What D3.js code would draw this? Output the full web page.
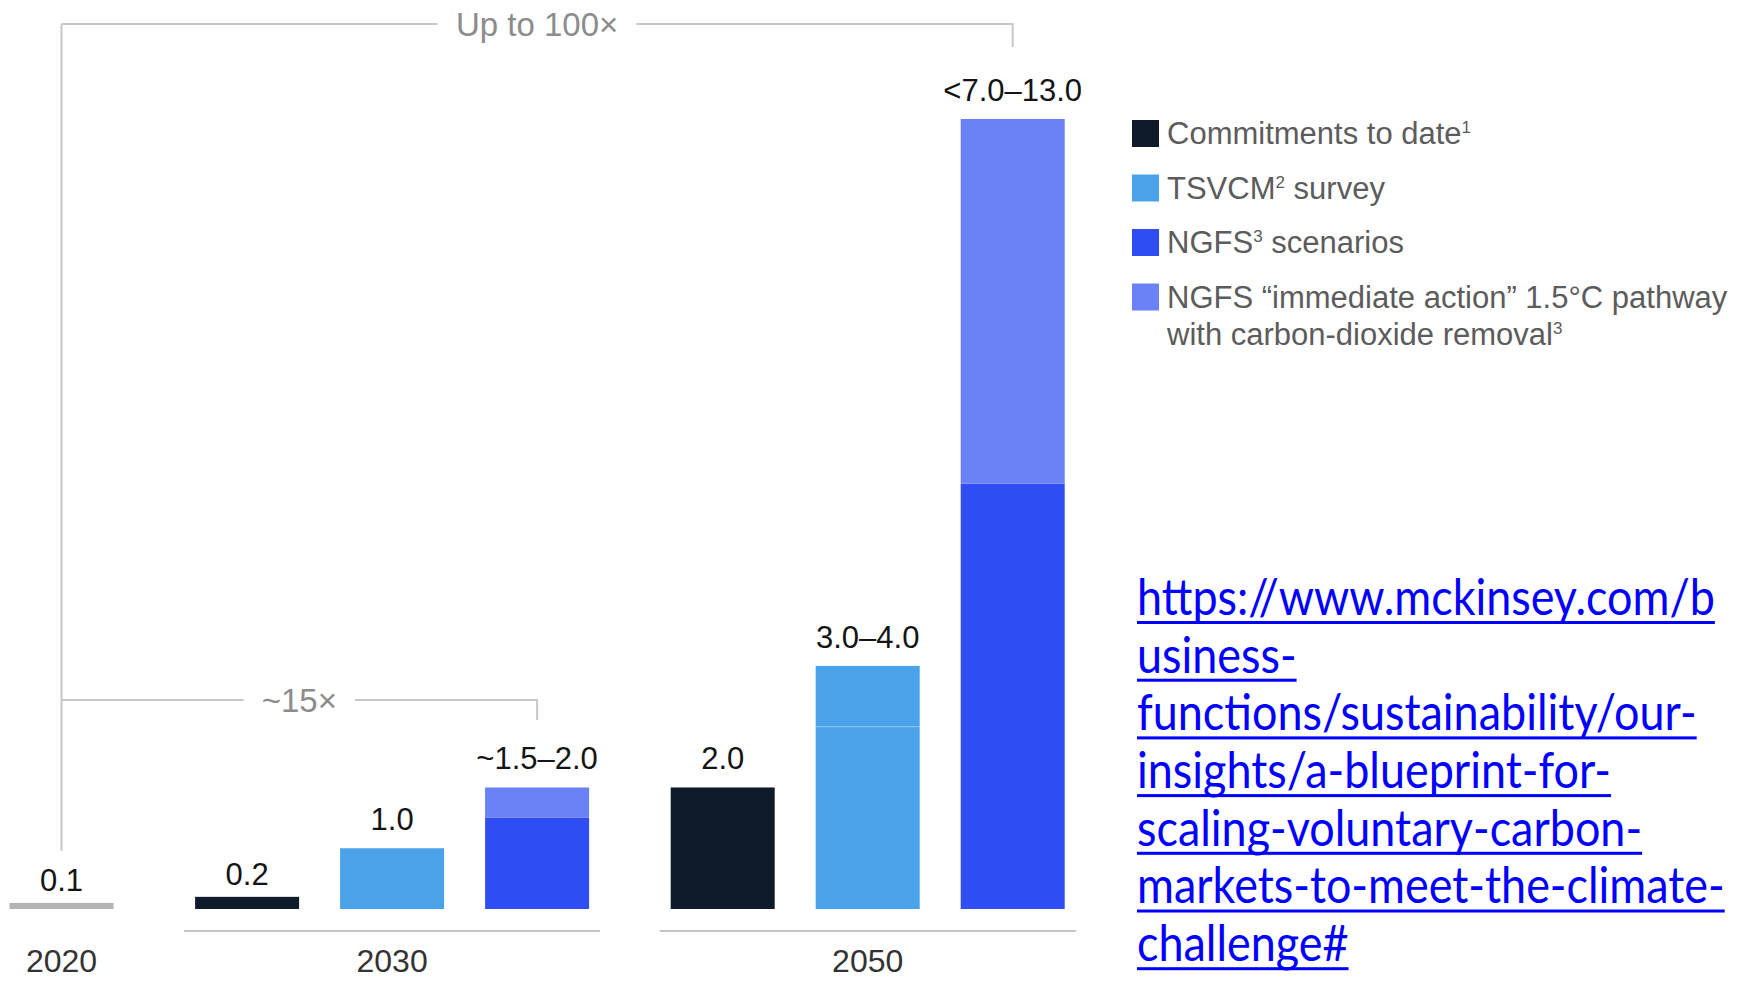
<!DOCTYPE html>
<html>
<head>
<meta charset="utf-8">
<script src="https://cdn.jsdelivr.net/npm/d3@7"></script>
<style>
  html, body { margin: 0; padding: 0; background: #fff; }
  svg { display: block; }
</style>
</head>
<body>
<svg id="chart"></svg>
<script>
// ---------------- Data ----------------

const years = ["2020", "2030", "2050"];
const barYear = ["2020", "2030", "2030", "2030", "2050", "2050", "2050"];
const barSeries = ["baseline", "commitments", "tsvcm", "ngfs", "commitments", "tsvcm", "ngfs"];
const barLow = [0.1, 0.2, 1.0, 1.5, 2.0, 3.0, 7.0];
const barHigh = [0.1, 0.2, 1.0, 2.0, 2.0, 4.0, 13.0];
const barLabels = ["0.1", "0.2", "1.0", "~1.5–2.0", "2.0", "3.0–4.0", "<7.0–13.0"];

const legendKeys = ["commitments", "tsvcm", "ngfs", "ngfsImmediate"];
const legendLabels = [
    ["Commitments to date^1"],
    ["TSVCM^2 survey"],
    ["NGFS^3 scenarios"],
    ["NGFS “immediate action” 1.5°C pathway", "with carbon-dioxide removal^3"]
];

const bracketLabels = ["Up to 100×", "~15×"];
const bracketFrom = [0, 0];
const bracketTo = [6, 3];

const urlLines = [
    "https://www.mckinsey.com/b",
    "usiness-",
    "functions/sustainability/our-",
    "insights/a-blueprint-for-",
    "scaling-voluntary-carbon-",
    "markets-to-meet-the-climate-",
    "challenge#"
];

// ---------------- Setup ----------------

var width = 1738;
var height = 981;

var svg = d3.select('#chart')
            .attr('width', width)
            .attr('height', height);

var colors = {
    baseline: "#b4b4b4",
    commitments: "#101b29",
    tsvcm: "#4aa3e9",
    ngfs: "#2e4df2",
    ngfsImmediate: "#6a82f5"
};
// colour of the part of a bar between its low and high estimate
var upperColor = { baseline: "baseline", commitments: "commitments", tsvcm: "tsvcm", ngfs: "ngfsImmediate" };

var bars = barYear.map((yr, i) => ({
    i: i,
    year: yr,
    series: barSeries[i],
    low: barLow[i],
    high: barHigh[i],
    label: barLabels[i],
    // extra spacing between year groups
    slot: i + years.indexOf(yr) * 0.28
}));

var barW = 104;
var baseY = 909;

var x = d3.scaleLinear()
          .domain([0, d3.max(bars, d => d.slot)])
          .range([61.5, 1012.7]);

var y = d3.scaleLinear()
          .domain([0, 13])
          .range([baseY, 119]);

var font = "'Liberation Sans', Arial, sans-serif";

// ---------------- Bars ----------------

var chart = svg.append('g').classed('bars', true);

// lower part (0 -> low)
chart.selectAll('.lower')
     .data(bars)
     .enter()
     .append('rect')
        .classed('lower', true)
        .attr('x', d => x(d.slot) - barW / 2)
        .attr('width', barW)
        .attr('y', d => y(d.low))
        .attr('height', d => y(0) - y(d.low))
        .attr('fill', d => colors[d.series]);

// upper part (low -> high) for the ranges
chart.selectAll('.upper')
     .data(bars.filter(d => d.high > d.low))
     .enter()
     .append('rect')
        .classed('upper', true)
        .attr('x', d => x(d.slot) - barW / 2)
        .attr('width', barW)
        .attr('y', d => y(d.high))
        .attr('height', d => y(d.low) - y(d.high))
        .attr('fill', d => colors[upperColor[d.series]]);

// faint split where both parts share a colour
chart.selectAll('.split')
     .data(bars.filter(d => d.high > d.low && upperColor[d.series] == d.series))
     .enter()
     .append('line')
        .attr('x1', d => x(d.slot) - barW / 2)
        .attr('x2', d => x(d.slot) + barW / 2)
        .attr('y1', d => y(d.low))
        .attr('y2', d => y(d.low))
        .attr('stroke', '#ffffff')
        .attr('stroke-opacity', 0.15)
        .attr('stroke-width', 1.5);

// value labels
chart.selectAll('.value')
     .data(bars)
     .enter()
     .append('text')
        .classed('value', true)
        .attr('x', d => x(d.slot))
        .attr('y', d => y(d.high) - (d.high < 0.5 ? 12 : 18))
        .attr('text-anchor', 'middle')
        .style('font-family', font)
        .style('font-size', '31px')
        .style('fill', '#141414')
        .text(d => d.label);

// ---------------- Year groups ----------------

var groups = years.map(yr => {
    var bs = bars.filter(b => b.year == yr);
    return {
        year: yr,
        n: bs.length,
        x0: x(d3.min(bs, b => b.slot)) - barW / 2,
        x1: x(d3.max(bs, b => b.slot)) + barW / 2
    };
});

svg.selectAll('.groupLine')
   .data(groups.filter(g => g.n > 1))
   .enter()
   .append('line')
      .attr('x1', g => g.x0 - 11)
      .attr('x2', g => g.x1 + 11)
      .attr('y1', 931)
      .attr('y2', 931)
      .attr('stroke', '#c4c4c4')
      .attr('stroke-width', 2);

svg.selectAll('.yearLabel')
   .data(groups)
   .enter()
   .append('text')
      .attr('x', g => (g.x0 + g.x1) / 2)
      .attr('y', 972)
      .attr('text-anchor', 'middle')
      .style('font-family', font)
      .style('font-size', '32px')
      .style('fill', '#333')
      .text(g => g.year);

// ---------------- Brackets ----------------

var bracketY = [24, 700];
var bracketDrop = [23, 20];

bracketLabels.forEach((lab, k) => {
    var xa = x(bars[bracketFrom[k]].slot);
    var xb = x(bars[bracketTo[k]].slot);
    var yy = bracketY[k];
    var g = svg.append('g').classed('bracket', true);

    var t = g.append('text')
             .attr('x', (xa + xb) / 2)
             .attr('y', yy + 12)
             .attr('text-anchor', 'middle')
             .style('font-family', font)
             .style('font-size', '33px')
             .style('fill', '#8c8c8c')
             .text(lab);
    var tw = t.node().getComputedTextLength();
    var cx = (xa + xb) / 2;

    g.append('path')
     .attr('d', `M${xa},${yy} H${cx - tw / 2 - 18}`)
     .attr('fill', 'none')
     .attr('stroke', '#c8c8c8')
     .attr('stroke-width', 2);
    g.append('path')
     .attr('d', `M${cx + tw / 2 + 18},${yy} H${xb} V${yy + bracketDrop[k]}`)
     .attr('fill', 'none')
     .attr('stroke', '#c8c8c8')
     .attr('stroke-width', 2);
});

// shared left stem, down to just above the 2020 label
svg.append('line')
   .attr('x1', x(bars[0].slot))
   .attr('x2', x(bars[0].slot))
   .attr('y1', bracketY[0])
   .attr('y2', 851)
   .attr('stroke', '#c8c8c8')
   .attr('stroke-width', 2);

// ---------------- Legend ----------------

var legend = svg.append('g')
                .attr('transform', 'translate(1132, 133)');

legendKeys.forEach((key, i) => {
    var row = legend.append('g')
                    .attr('transform', `translate(0, ${i * 54.5})`);
    row.append('rect')
       .attr('x', 0)
       .attr('y', -13)
       .attr('width', 27)
       .attr('height', 27)
       .attr('fill', colors[key]);

    legendLabels[i].forEach((line, j) => {
        var txt = row.append('text')
                     .attr('x', 35)
                     .attr('y', 11 + j * 37)
                     .style('font-family', font)
                     .style('font-size', '31px')
                     .style('fill', '#5c5c5c');
        // "^n" marks a footnote number; the next piece drops back to the baseline
        var raised = false;
        line.split(/(\^\d)/).forEach(part => {
            if (part.startsWith('^')) {
                txt.append('tspan')
                   .attr('dy', -11)
                   .style('font-size', '17px')
                   .text(part.slice(1));
                raised = true;
            } else if (part.length) {
                txt.append('tspan')
                   .attr('dy', raised ? 11 : 0)
                   .text(part);
                raised = false;
            }
        });
    });
});

// ---------------- Source link ----------------

var link = svg.append('g');
var linkFont = 50;
var lines = link.selectAll('text')
    .data(urlLines)
    .enter()
    .append('text')
       .attr('x', 0)
       .attr('y', (d, i) => 615 + i * 57.7)
       .style('font-family', "Lato, 'Open Sans', sans-serif")
       .style('font-size', linkFont + 'px')
       .style('fill', '#0000ff')
       .text(d => d);

// squeeze the link text to the width of the first line
var natural = lines.nodes()[0].getComputedTextLength();
var sx = 578 / natural;
link.attr('transform', `translate(1137, 0) scale(${sx}, 1)`);

lines.each(function(d, i) {
    var w = this.getComputedTextLength();
    link.append('rect')
        .attr('x', 0)
        .attr('y', 615 + i * 57.7 + 6)
        .attr('width', w)
        .attr('height', 3)
        .attr('fill', '#0000ff');
});
</script>
</body>
</html>
